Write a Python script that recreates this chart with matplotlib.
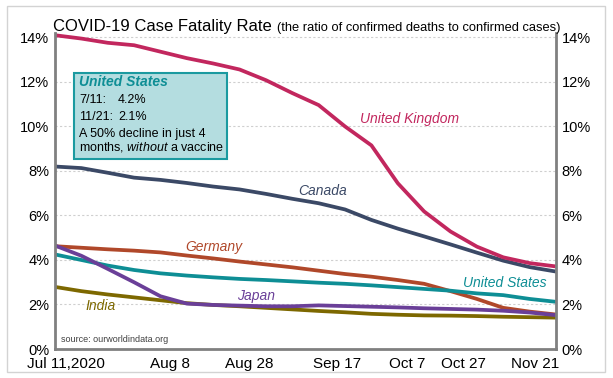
import matplotlib
matplotlib.use('Agg')
import matplotlib.pyplot as plt
import matplotlib.patches as patches
import matplotlib.ticker as mticker

plt.rcParams['font.family'] = ['Liberation Sans', 'DejaVu Sans']
plt.rcParams['mathtext.fontset'] = 'custom'
plt.rcParams['mathtext.rm'] = 'Liberation Sans'
plt.rcParams['mathtext.it'] = 'Liberation Sans:italic'

# weekly readings, days after Jul 11, 2020
days = [0, 7, 14, 21, 28, 35, 42, 49, 56, 63, 70, 77, 84, 91, 98, 105, 112, 119, 126, 133]

uk = [14.1, 13.95, 13.76, 13.65, 13.36, 13.07, 12.83, 12.56, 12.08, 11.5,
      10.96, 10.0, 9.15, 7.45, 6.18, 5.28, 4.6, 4.12, 3.86, 3.71]
canada = [8.2, 8.13, 7.92, 7.7, 7.6, 7.46, 7.3, 7.17, 6.97, 6.75,
          6.55, 6.27, 5.8, 5.41, 5.06, 4.7, 4.33, 3.97, 3.68, 3.48]
germany = [4.62, 4.55, 4.48, 4.42, 4.34, 4.2, 4.07, 3.93, 3.8, 3.67,
           3.52, 3.37, 3.25, 3.1, 2.93, 2.6, 2.25, 1.85, 1.68, 1.55]
us = [4.25, 4.0, 3.75, 3.55, 3.4, 3.3, 3.22, 3.15, 3.1, 3.04,
      2.98, 2.93, 2.86, 2.78, 2.7, 2.62, 2.5, 2.42, 2.25, 2.12]
japan = [4.65, 4.19, 3.6, 3.0, 2.37, 2.04, 1.98, 1.95, 1.92, 1.92,
         1.96, 1.93, 1.9, 1.87, 1.83, 1.8, 1.77, 1.72, 1.64, 1.52]
india = [2.79, 2.6, 2.45, 2.32, 2.19, 2.06, 1.98, 1.92, 1.85, 1.78,
         1.71, 1.65, 1.58, 1.54, 1.51, 1.5, 1.48, 1.45, 1.43, 1.41]

tick_labels = ['Jul 11,2020', 'Aug 8', 'Aug 28', 'Sep 17', 'Oct 7', 'Oct 27', 'Nov 21']
tick_pos = [2.8, 30.5, 51.5, 75.0, 93.4, 108.3, 127.4]

c_uk = '#C2275E'
c_ca = '#3B4966'
c_de = '#B0482A'
c_us = '#0E8E95'
c_jp = '#6A3F98'
c_in = '#7D6800'

fig = plt.figure(figsize=(6.13, 3.78), dpi=100)
ax = fig.add_axes([0.0897, 0.0767, 0.8173, 0.836])

lw = 2.7
ax.plot(days, india, color=c_in, lw=lw, solid_capstyle='butt')
ax.plot(days, germany, color=c_de, lw=lw, solid_capstyle='butt')
ax.plot(days, us, color=c_us, lw=lw, solid_capstyle='butt')
ax.plot(days, japan, color=c_jp, lw=lw, solid_capstyle='butt')
ax.plot(days, canada, color=c_ca, lw=lw, solid_capstyle='butt')
ax.plot(days, uk, color=c_uk, lw=lw, solid_capstyle='butt')

ax.set_xlim(0, 133)
ax.set_ylim(0, 14.2)
ax.set_yticks(range(0, 15, 2))
ax.yaxis.set_major_formatter(mticker.FuncFormatter(lambda v, p: '{:.0f}%'.format(v)))
ax.set_xticks(tick_pos)
ax.set_xticklabels(tick_labels)
ax.tick_params(axis='x', length=0, pad=6, labelsize=11)
ax.tick_params(axis='y', length=0, pad=4, labelsize=10.5, labelright=True, right=False)

ax.grid(axis='y', color='#CFCFCF', linestyle=(0, (2, 2)), linewidth=0.8)
ax.set_axisbelow(True)
ax.spines['top'].set_visible(False)
for s in ['left', 'right', 'bottom']:
    ax.spines[s].set_color('#808080')
    ax.spines[s].set_linewidth(2.0)

# series labels
lab_kw = dict(fontsize=10, style='italic', ha='center', va='center')
ax.text(94.2, 10.34, 'United Kingdom', color=c_uk, **lab_kw)
ax.text(71.0, 7.1, 'Canada', color=c_ca, **lab_kw)
ax.text(42.1, 4.6, 'Germany', color=c_de, **lab_kw)
ax.text(119.5, 2.98, 'United States', color=c_us, **lab_kw)
ax.text(53.4, 2.4, 'Japan', color=c_jp, **lab_kw)
ax.text(12.2, 1.92, 'India', color=c_in, **lab_kw)

ax.text(0.012, 0.03, 'source: ourworldindata.org', transform=ax.transAxes,
        fontsize=6.5, color='#404040', ha='left', va='center')

# US callout box
W, H = 613.0, 378.0
box = patches.Rectangle((74 / W, 1 - 159 / H), 153 / W, 86 / H, transform=fig.transFigure,
                        facecolor='#B4DDE0', edgecolor='#1B9AA0', linewidth=1.5, zorder=5)
fig.patches.append(box)
fig.text(79 / W, 1 - 82.5 / H, 'United States', color=c_us, fontsize=10,
         fontweight='bold', style='italic', va='center', zorder=6)
fig.text(79 / W, 1 - 100 / H, '7/11:', fontsize=9, va='center', zorder=6)
fig.text(118 / W, 1 - 100 / H, '4.2%', fontsize=9, va='center', zorder=6)
fig.text(79 / W, 1 - 116.7 / H, '11/21:', fontsize=9, va='center', zorder=6)
fig.text(118 / W, 1 - 116.7 / H, '2.1%', fontsize=9, va='center', zorder=6)
fig.text(79 / W, 1 - 134 / H, 'A 50% decline in just 4', fontsize=9, va='center', zorder=6)
fig.text(79 / W, 1 - 147.5 / H, r'months, $\mathit{without}$ a vaccine', fontsize=9,
         va='center', zorder=6)

# title
t1 = fig.text(53 / W, 1 - 31.5 / H, 'COVID-19 Case Fatality Rate', fontsize=12,
              va='baseline', ha='left')
fig.canvas.draw()
bb = t1.get_window_extent()
fig.text((bb.x1 + 5) / W, 1 - 31.5 / H,
         '(the ratio of confirmed deaths to confirmed cases)', fontsize=9.3,
         va='baseline', ha='left')

# outer frame
frame = patches.Rectangle((7 / W, 1 - 372 / H), 598 / W, 366 / H, transform=fig.transFigure,
                          facecolor='none', edgecolor='#D3D3D3', linewidth=1.0)
fig.patches.append(frame)

fig.savefig('out.png', dpi=100)
plt.close(fig)
